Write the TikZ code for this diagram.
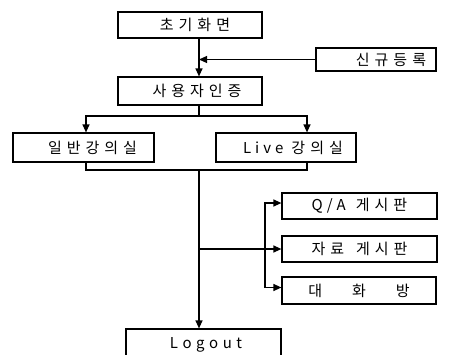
\documentclass[tikz,border=0pt]{standalone}
\usepackage{fontspec}
\setmainfont{Noto Sans CJK KR}
\usetikzlibrary{arrows.meta}
\newlength\lsp
\setlength\lsp{5pt}
\def\spaced#1{\spacedi#1\relax}
\def\spacedi#1{\ifx\relax#1\unkern\else#1\kern\lsp\expandafter\spacedi\fi}
\begin{document}
\begin{tikzpicture}[x=1pt,y=-1pt,
  box/.style={draw,line width=1.2pt,inner sep=0pt,minimum width=#1,font=\fontsize{15pt}{17pt}\selectfont},
  ln/.style={line width=1.2pt},
  arr/.style={line width=1.2pt,-{Triangle[length=8pt,width=7pt]}}]
\useasboundingbox (0,0) rectangle (469,354);
\node[box=144pt,minimum height=26pt] (init) at (190,25) {\hspace*{10pt}\spaced{초기화면}};
\node[box=120pt,minimum height=23pt] (reg) at (376,59.5) {\hspace*{30pt}\spaced{신규등록}};
\node[box=144pt,minimum height=28pt] (auth) at (190,91) {\hspace*{14pt}\spaced{사용자인증}};
\node[box=141pt,minimum height=29pt] (gen) at (83.5,147.5) {\hspace*{18pt}\spaced{일반강의실}};
\node[box=140pt,minimum height=29pt] (live) at (286,147.5) {\hspace*{14pt}\setlength\lsp{4pt}\spaced{Live}\kern8pt\setlength\lsp{5pt}\spaced{강의실}};
\node[box=155pt,minimum height=26pt] (qa) at (359.5,206) {\setlength\lsp{4pt}\spaced{Q/A}\kern10pt\setlength\lsp{5pt}\spaced{게시판}};
\node[box=155pt,minimum height=26pt] (data) at (359.5,249) {\spaced{자료}\kern12pt\spaced{게시판}};
\node[box=154pt,minimum height=27pt] (chat) at (359,290.5) {대\kern30pt 화\kern30pt 방};
\node[box=155pt,minimum height=32pt] (logout) at (203.5,345) {\hspace*{5pt}\setlength\lsp{4.5pt}\spaced{Logout}};
\coordinate (m) at (199,0);
\coordinate (ga) at (86,0);
\coordinate (la) at (307,0);
\coordinate (b) at (265,0);
\coordinate (j1) at (199,116);
\coordinate (j2) at (199,170);
\draw[arr] (init.south -| m) -- (auth.north -| m);
\draw[arr] (reg.west) -- (reg.west -| m);
\draw[ln] (auth.south -| m) -- (j1);
\draw[arr] (j1) -| (gen.north -| ga);
\draw[arr] (j1) -| (live.north -| la);
\draw[ln] (gen.south -| ga) -- (j2 -| ga) -| (live.south -| la);
\draw[arr] (j2) -- (logout.north -| m);
\draw[arr] (data.west -| m) -- (data.west);
\draw[arr] (data.west -| b) |- ([yshift=3pt]qa.west);
\draw[arr] (data.west -| b) |- ([yshift=3pt]chat.west);
\end{tikzpicture}
\end{document}
